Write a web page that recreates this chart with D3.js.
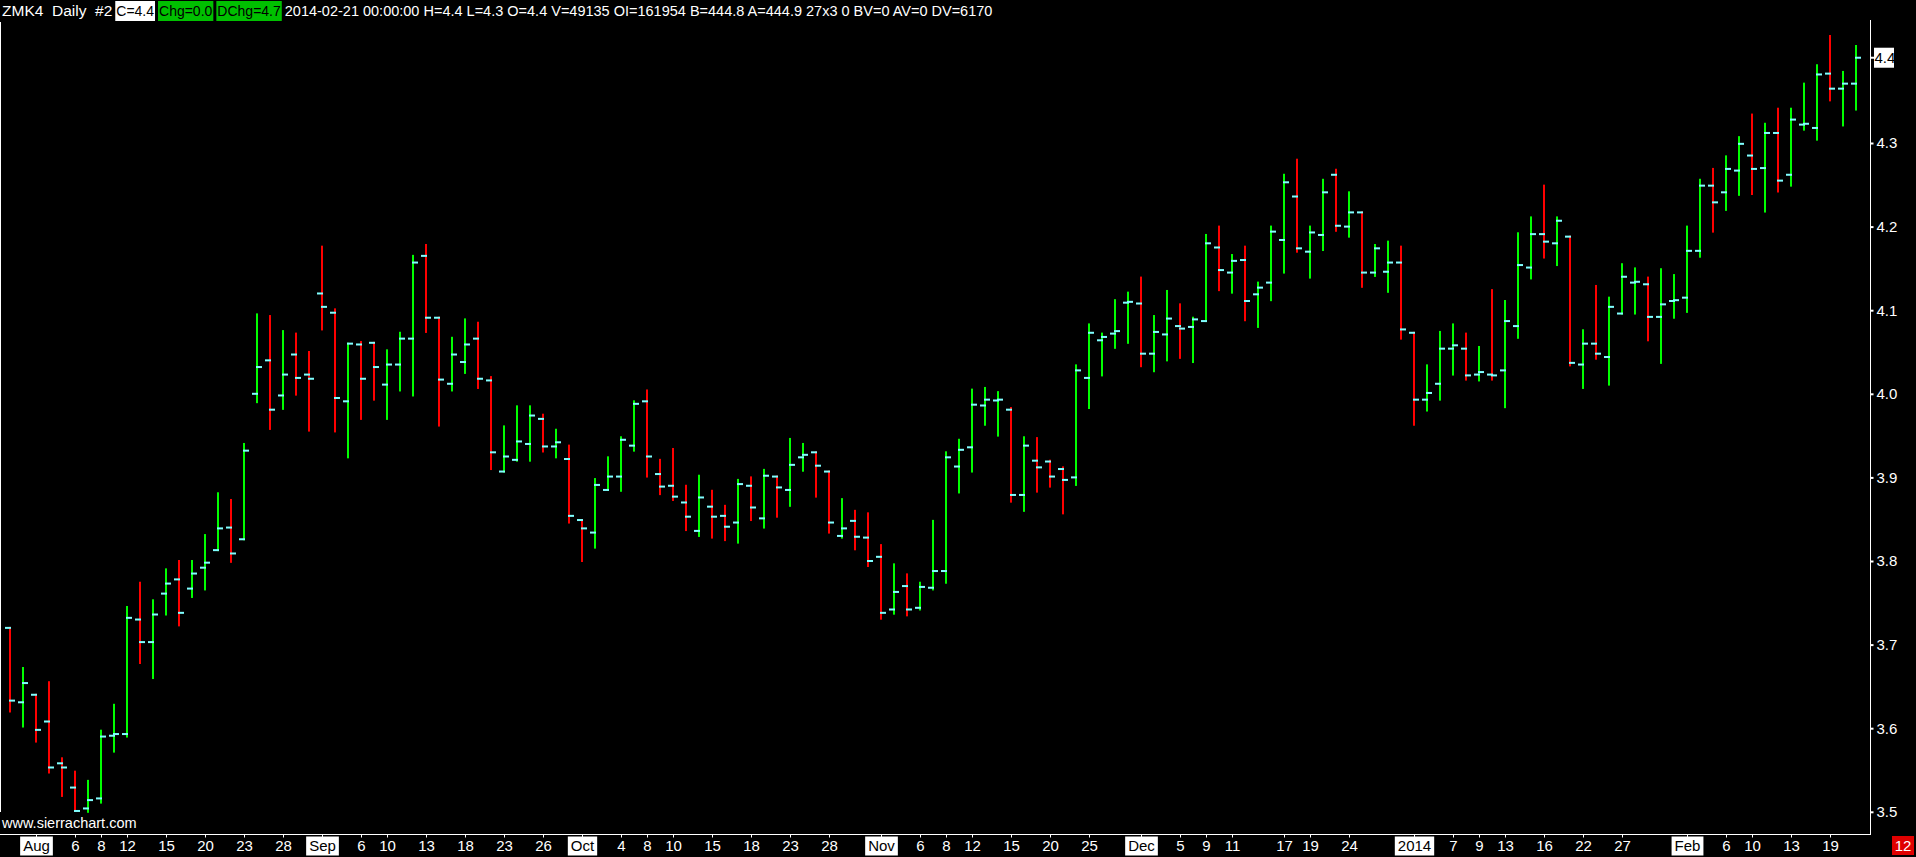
<!DOCTYPE html>
<html><head><meta charset="utf-8">
<script src="https://cdn.jsdelivr.net/npm/d3@7"></script>
<style>
html,body{margin:0;padding:0;background:#000;overflow:hidden}
svg{display:block}
text{font-family:"Liberation Sans",Arial,sans-serif;white-space:pre}
</style></head><body>
<svg id="chart" width="1916" height="857"></svg>
<script>
// ---- data ----
const dates = [
"2013-07-30","2013-07-31","2013-08-01","2013-08-02","2013-08-05","2013-08-06","2013-08-07","2013-08-08","2013-08-09","2013-08-12",
"2013-08-13","2013-08-14","2013-08-15","2013-08-16","2013-08-19","2013-08-20","2013-08-21","2013-08-22","2013-08-23","2013-08-26",
"2013-08-27","2013-08-28","2013-08-29","2013-08-30","2013-09-03","2013-09-04","2013-09-05","2013-09-06","2013-09-09","2013-09-10",
"2013-09-11","2013-09-12","2013-09-13","2013-09-16","2013-09-17","2013-09-18","2013-09-19","2013-09-20","2013-09-23","2013-09-24",
"2013-09-25","2013-09-26","2013-09-27","2013-09-30","2013-10-01","2013-10-02","2013-10-03","2013-10-04","2013-10-07","2013-10-08",
"2013-10-09","2013-10-10","2013-10-11","2013-10-14","2013-10-15","2013-10-16","2013-10-17","2013-10-18","2013-10-21","2013-10-22",
"2013-10-23","2013-10-24","2013-10-25","2013-10-28","2013-10-29","2013-10-30","2013-10-31","2013-11-01","2013-11-04","2013-11-05",
"2013-11-06","2013-11-07","2013-11-08","2013-11-11","2013-11-12","2013-11-13","2013-11-14","2013-11-15","2013-11-18","2013-11-19",
"2013-11-20","2013-11-21","2013-11-22","2013-11-25","2013-11-26","2013-11-27","2013-11-29","2013-12-02","2013-12-03","2013-12-04",
"2013-12-05","2013-12-06","2013-12-09","2013-12-10","2013-12-11","2013-12-12","2013-12-13","2013-12-16","2013-12-17","2013-12-18",
"2013-12-19","2013-12-20","2013-12-23","2013-12-24","2013-12-26","2013-12-27","2013-12-30","2013-12-31","2014-01-02","2014-01-03",
"2014-01-06","2014-01-07","2014-01-08","2014-01-09","2014-01-10","2014-01-13","2014-01-14","2014-01-15","2014-01-16","2014-01-17",
"2014-01-21","2014-01-22","2014-01-23","2014-01-24","2014-01-27","2014-01-28","2014-01-29","2014-01-30","2014-01-31","2014-02-03",
"2014-02-04","2014-02-05","2014-02-06","2014-02-07","2014-02-10","2014-02-11","2014-02-12","2014-02-13","2014-02-14","2014-02-18",
"2014-02-19","2014-02-20","2014-02-21"];

const opens = [
3.720,3.631,3.640,3.608,3.558,3.529,3.504,3.516,3.591,3.593,
3.730,3.703,3.761,3.778,3.767,3.792,3.813,3.840,3.826,4.000,
4.040,3.998,4.047,4.023,4.120,4.097,3.991,4.059,4.061,4.011,
4.035,4.066,4.165,4.091,4.012,4.038,4.066,4.016,3.907,3.921,
3.940,3.970,3.937,3.922,3.849,3.834,3.885,3.901,3.938,3.991,
3.904,3.890,3.870,3.836,3.865,3.854,3.846,3.890,3.851,3.901,
3.885,3.924,3.930,3.907,3.830,3.848,3.828,3.805,3.742,3.770,
3.744,3.768,3.788,3.913,3.936,3.986,3.992,3.981,3.879,3.920,
3.919,3.910,3.900,4.019,4.064,4.072,4.109,4.108,4.048,4.071,
4.081,4.080,4.087,4.175,4.145,4.160,4.119,4.133,4.184,4.236,
4.170,4.190,4.262,4.200,4.217,4.145,4.146,4.157,4.073,3.993,
4.012,4.054,4.054,4.023,4.023,4.028,4.081,4.151,4.191,4.180,
4.188,4.035,4.060,4.044,4.096,4.133,4.131,4.092,4.111,4.115,
4.171,4.249,4.241,4.267,4.285,4.270,4.312,4.262,4.322,4.318,
4.383,4.365,4.371];

const highs = [
3.720,3.672,3.640,3.655,3.564,3.548,3.537,3.597,3.628,3.745,
3.774,3.753,3.790,3.800,3.800,3.831,3.881,3.873,3.940,4.095,
4.093,4.075,4.072,4.050,4.176,4.101,4.060,4.062,4.061,4.052,
4.073,4.165,4.178,4.091,4.067,4.089,4.085,4.020,3.961,3.985,
3.985,3.975,3.957,3.938,3.849,3.898,3.924,3.948,3.991,4.004,
3.921,3.934,3.890,3.902,3.884,3.866,3.897,3.900,3.909,3.901,
3.946,3.940,3.930,3.907,3.874,3.860,3.857,3.819,3.796,3.784,
3.774,3.848,3.930,3.945,4.005,4.007,4.002,3.983,3.948,3.947,
3.920,3.912,4.034,4.083,4.072,4.112,4.121,4.139,4.093,4.123,
4.107,4.091,4.190,4.200,4.166,4.176,4.133,4.200,4.262,4.280,
4.200,4.256,4.268,4.241,4.217,4.178,4.182,4.176,4.073,4.034,
4.074,4.083,4.072,4.056,4.124,4.111,4.192,4.211,4.249,4.211,
4.188,4.076,4.129,4.115,4.155,4.150,4.139,4.149,4.142,4.200,
4.256,4.269,4.284,4.307,4.334,4.323,4.341,4.341,4.371,4.393,
4.428,4.385,4.416];

const lows = [
3.620,3.602,3.584,3.547,3.519,3.501,3.500,3.511,3.572,3.590,
3.678,3.660,3.736,3.723,3.757,3.766,3.813,3.799,3.826,3.990,
3.958,3.982,3.999,3.956,4.077,3.955,3.924,3.970,3.993,3.970,
4.004,3.998,4.074,3.962,4.004,4.025,4.007,3.910,3.907,3.920,
3.920,3.931,3.924,3.846,3.800,3.816,3.885,3.884,3.932,3.901,
3.880,3.873,3.837,3.830,3.828,3.825,3.822,3.849,3.840,3.853,
3.866,3.908,3.877,3.834,3.828,3.814,3.794,3.731,3.737,3.735,
3.742,3.766,3.774,3.882,3.907,3.963,3.950,3.871,3.860,3.883,
3.889,3.857,3.891,3.983,4.022,4.055,4.061,4.033,4.027,4.040,
4.043,4.038,4.087,4.124,4.121,4.088,4.080,4.112,4.145,4.170,
4.139,4.172,4.195,4.188,4.128,4.141,4.122,4.066,3.963,3.980,
3.993,4.023,4.017,4.016,4.017,3.984,4.067,4.138,4.163,4.154,
4.034,4.007,4.042,4.011,4.096,4.096,4.064,4.037,4.091,4.098,
4.164,4.194,4.220,4.238,4.239,4.218,4.242,4.249,4.316,4.304,
4.351,4.321,4.340];

const closes = [
3.633,3.654,3.598,3.553,3.553,3.501,3.514,3.590,3.593,3.732,
3.703,3.736,3.773,3.738,3.785,3.798,3.839,3.809,3.932,4.032,
3.981,4.023,4.019,4.018,4.104,3.995,4.060,4.018,4.032,4.035,
4.066,4.157,4.091,4.017,4.047,4.059,4.018,3.930,3.925,3.943,
3.974,3.937,3.942,3.854,3.839,3.891,3.901,3.945,3.988,3.925,
3.889,3.877,3.853,3.876,3.853,3.841,3.892,3.864,3.902,3.888,
3.915,3.927,3.914,3.846,3.839,3.829,3.800,3.738,3.763,3.742,
3.769,3.788,3.924,3.933,3.987,3.993,3.993,3.879,3.938,3.912,
3.901,3.897,4.028,4.073,4.068,4.075,4.110,4.048,4.074,4.090,
4.078,4.089,4.180,4.148,4.159,4.111,4.127,4.194,4.253,4.174,
4.193,4.241,4.201,4.217,4.145,4.174,4.157,4.077,3.993,4.001,
4.054,4.058,4.022,4.026,4.022,4.087,4.154,4.191,4.182,4.207,
4.037,4.060,4.048,4.104,4.140,4.134,4.092,4.107,4.112,4.171,
4.249,4.229,4.269,4.299,4.269,4.312,4.255,4.328,4.323,4.382,
4.365,4.371,4.402];

const priceTicks = [3.5,3.6,3.7,3.8,3.9,4.0,4.1,4.2,4.3];
const lastPriceLabel = "4.4";

const dateTickDates = ["2013-08-01","2013-08-06","2013-08-08","2013-08-12","2013-08-15","2013-08-20","2013-08-23","2013-08-28",
"2013-09-03","2013-09-06","2013-09-10","2013-09-13","2013-09-18","2013-09-23","2013-09-26",
"2013-10-01","2013-10-04","2013-10-08","2013-10-10","2013-10-15","2013-10-18","2013-10-23","2013-10-28",
"2013-11-01","2013-11-06","2013-11-08","2013-11-12","2013-11-15","2013-11-20","2013-11-25",
"2013-12-02","2013-12-05","2013-12-09","2013-12-11","2013-12-17","2013-12-19","2013-12-24",
"2014-01-02","2014-01-07","2014-01-09","2014-01-13","2014-01-16","2014-01-22","2014-01-27",
"2014-02-03","2014-02-06","2014-02-10","2014-02-13","2014-02-19"];
const dateTickLabels = ["Aug","6","8","12","15","20","23","28",
"Sep","6","10","13","18","23","26",
"Oct","4","8","10","15","18","23","28",
"Nov","6","8","12","15","20","25",
"Dec","5","9","11","17","19","24",
"2014","7","9","13","16","22","27",
"Feb","6","10","13","19"];
const boxedLabels = ["Aug","Sep","Oct","Nov","Dec","2014","Feb"];

const headerPlain1 = "ZMK4  Daily  #2";
const headerBoxes = ["C=4.4","Chg=0.0","DChg=4.7"];
const headerPlain2 = "2014-02-21 00:00:00 H=4.4 L=4.3 O=4.4 V=49135 OI=161954 B=444.8 A=444.9 27x3 0 BV=0 AV=0 DV=6170";
const watermark = "www.sierrachart.com";
const cornerLabel = "12";

// ---- drawing ----
const FONT = '"Liberation Sans",Arial,sans-serif';
const svg = d3.select("#chart");
svg.append("rect").attr("width",1916).attr("height",857).attr("fill","#000");

const UP = "#00ff00", DOWN = "#ff0000", TICK = "#80ffff";
const x = d3.scalePoint().domain(dates).range([10, 1856]);
const y = d3.scaleLinear().domain([3.5, 4.3]).range([811.8, 143]);

const bars = dates.map((d,i)=>({d, o:opens[i], h:highs[i], l:lows[i], c:closes[i]}));

const g = svg.append("g");
g.selectAll("rect.bar").data(bars).join("rect")
  .attr("class","bar")
  .attr("x", b => x(b.d)-1).attr("width", 2)
  .attr("y", b => y(b.h)-1).attr("height", b => y(b.l)-y(b.h)+2)
  .attr("fill", b => b.c >= b.o ? UP : DOWN);
g.selectAll("rect.open").data(bars).join("rect")
  .attr("class","open")
  .attr("x", b => x(b.d)-5).attr("width", 6)
  .attr("y", b => y(b.o)-1).attr("height", 2)
  .attr("fill", TICK);
g.selectAll("rect.close").data(bars).join("rect")
  .attr("class","close")
  .attr("x", b => x(b.d)-1).attr("width", 6)
  .attr("y", b => y(b.c)-1).attr("height", 2)
  .attr("fill", TICK);

// left border line
svg.append("rect").attr("x",0).attr("y",22).attr("width",1).attr("height",790).attr("fill","#fff");

// price axis
const yAxis = d3.axisRight(y).tickValues(priceTicks).tickFormat(d3.format(".1f")).tickSize(3).tickPadding(3);
const ya = svg.append("g").attr("transform","translate(1870.5,0)").call(yAxis);
ya.select(".domain").remove();
ya.selectAll(".tick line").attr("stroke","#fff").attr("stroke-width",2);
ya.selectAll(".tick text").attr("fill","#fff").attr("font-size",15).attr("font-family",FONT);
svg.append("rect").attr("x",1870).attr("y",20).attr("width",1).attr("height",815).attr("fill","#fff");

// last price box
const lastY = y(closes[closes.length-1]);
svg.append("rect").attr("x",1871).attr("y",lastY-1).attr("width",3).attr("height",2).attr("fill","#fff");
svg.append("rect").attr("x",1874).attr("y",lastY-10).attr("width",20).attr("height",20).attr("fill","#fff");
svg.append("text").attr("x",1874.5).attr("y",lastY).attr("dy","0.35em").attr("font-size",15)
  .attr("font-family",FONT).attr("fill","#000").text(lastPriceLabel);

// date axis
const xAxis = d3.axisBottom(x).tickValues(dateTickDates)
  .tickFormat(d => dateTickLabels[dateTickDates.indexOf(d)]).tickSize(3).tickPadding(2);
const xa = svg.append("g").attr("transform","translate(0,834.5)").call(xAxis);
xa.select(".domain").remove();
xa.selectAll(".tick line").attr("stroke","#fff");
xa.selectAll(".tick text").attr("fill","#fff").attr("font-size",15).attr("font-family",FONT)
  .attr("y",11).attr("dy","0.35em");
svg.append("rect").attr("x",0).attr("y",834).attr("width",1871).attr("height",1).attr("fill","#fff");
xa.selectAll(".tick").each(function(d){
  const lab = dateTickLabels[dateTickDates.indexOf(d)];
  if (boxedLabels.includes(lab)) {
    const t = d3.select(this).select("text");
    const w = t.node().getComputedTextLength();
    d3.select(this).insert("rect","text").attr("x",-w/2-3).attr("y",2).attr("width",w+6).attr("height",19).attr("fill","#fff");
    t.attr("fill","#000");
  }
});

// corner label
svg.append("rect").attr("x",1892).attr("y",836).attr("width",22).attr("height",19).attr("fill","#e00000");
svg.append("text").attr("x",1903).attr("y",846).attr("dy","0.35em").attr("text-anchor","middle")
  .attr("font-size",15).attr("font-family",FONT).attr("fill","#fff").text(cornerLabel);

// watermark
svg.append("text").attr("x",2).attr("y",823).attr("dy","0.35em").attr("font-size",14.5)
  .attr("font-family",FONT).attr("fill","#fff").text(watermark);

// header
const hy = 11;
const h = svg.append("g");
let cx = 2;
const t1 = h.append("text").attr("x",cx).attr("y",hy).attr("dy","0.35em").attr("font-size",15.5)
  .attr("font-family",FONT).attr("fill","#fff").text(headerPlain1);
cx += t1.node().getComputedTextLength() + 3;
const boxFill = ["#fff","#00c000","#00c000"];
headerBoxes.forEach((s,i)=>{
  const r = h.append("rect").attr("y",1).attr("height",20).attr("fill",boxFill[i]);
  const t = h.append("text").attr("x",cx+1).attr("y",hy).attr("dy","0.35em").attr("font-size",14)
    .attr("font-family",FONT).attr("fill","#000").text(s);
  const w = t.node().getComputedTextLength();
  r.attr("x",cx).attr("width",w+2);
  cx += w + 2 + 3;
});
h.append("text").attr("x",cx).attr("y",hy).attr("dy","0.35em").attr("font-size",14.5)
  .attr("font-family",FONT).attr("fill","#fff").text(headerPlain2);
</script>
</body></html>
